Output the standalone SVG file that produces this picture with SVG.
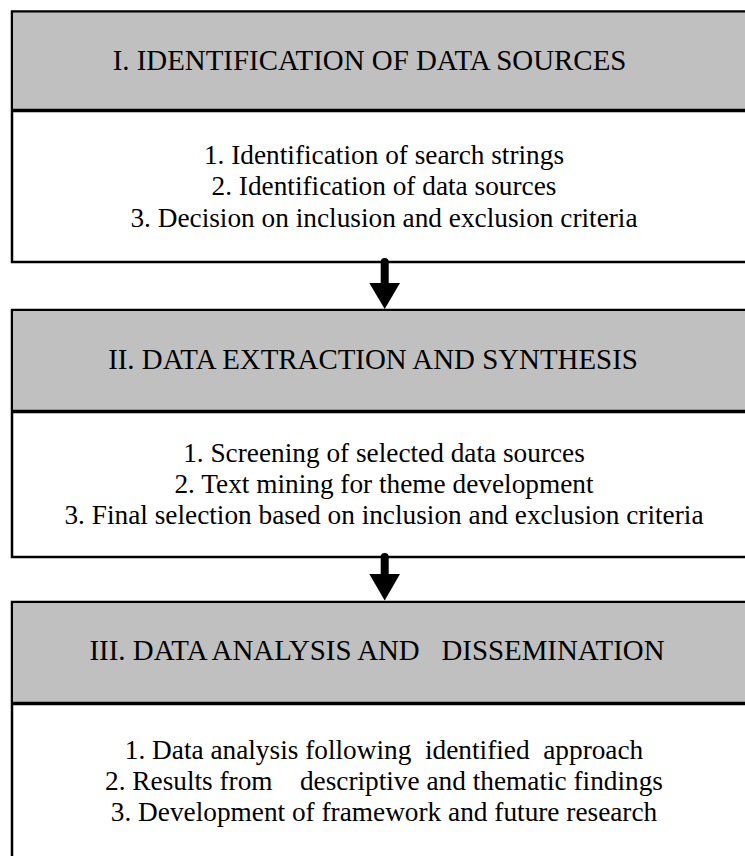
<svg xmlns="http://www.w3.org/2000/svg" width="745" height="856" viewBox="0 0 745 856">
  <defs>
    <style>
      .box { fill: #ffffff; stroke: #000000; stroke-width: 2.5; }
      .head { fill: #c0c0c0; stroke: none; }
      .div { stroke: #000000; stroke-width: 3.5; }
      .ht { font-family: "Liberation Serif", "Times New Roman", serif; font-size: 28.9px; fill: #000000; text-anchor: middle; white-space: pre; }
      .bt { font-family: "Liberation Serif", "Times New Roman", serif; font-size: 27.3px; fill: #000000; text-anchor: middle; white-space: pre; }
      .shaft { stroke: #000000; stroke-width: 8; stroke-linecap: round; fill: none; }
      .head-arrow { fill: #000000; stroke: none; }
    </style>
  </defs>

  <g id="node-1">
    <rect class="box" x="12" y="11.5" width="748" height="250.5"/>
    <rect class="head" x="13.25" y="12.75" width="745.5" height="97.75"/>
    <line class="div" x1="12" y1="110.5" x2="760" y2="110.5"/>
    <text class="ht" x="369.5" y="70">I. IDENTIFICATION OF DATA SOURCES</text>
    <text class="bt" x="384" y="164">1. Identification of search strings</text>
    <text class="bt" x="384" y="195">2. Identification of data sources</text>
    <text class="bt" x="384" y="226.5">3. Decision on inclusion and exclusion criteria</text>
  </g>

  <g id="node-2">
    <rect class="box" x="12" y="310" width="748" height="247"/>
    <rect class="head" x="13.25" y="311.25" width="745.5" height="100.25"/>
    <line class="div" x1="12" y1="411.5" x2="760" y2="411.5"/>
    <text class="ht" x="373" y="368.5">II. DATA EXTRACTION AND SYNTHESIS</text>
    <text class="bt" x="384" y="462">1. Screening of selected data sources</text>
    <text class="bt" x="384" y="493">2. Text mining for theme development</text>
    <text class="bt" x="384" y="524">3. Final selection based on inclusion and exclusion criteria</text>
  </g>

  <g id="node-3">
    <rect class="box" x="12" y="602" width="748" height="280"/>
    <rect class="head" x="13.25" y="603.25" width="745.5" height="100.25"/>
    <line class="div" x1="12" y1="703.5" x2="760" y2="703.5"/>
    <text class="ht" x="377" y="660">III. DATA ANALYSIS AND   DISSEMINATION</text>
    <text class="bt" x="384" y="759">1. Data analysis following  identified  approach</text>
    <text class="bt" x="384" y="790">2. Results from    descriptive and thematic findings</text>
    <text class="bt" x="384" y="821">3. Development of framework and future research</text>
  </g>

  <g id="connectors">
    <line class="shaft" x1="384.7" y1="262" x2="384.7" y2="285"/>
    <polygon class="head-arrow" points="369.3,283 400,283 384.7,309"/>
    <line class="shaft" x1="384.7" y1="557" x2="384.7" y2="576"/>
    <polygon class="head-arrow" points="369.3,574 400,574 384.7,600.5"/>
  </g>
</svg>
